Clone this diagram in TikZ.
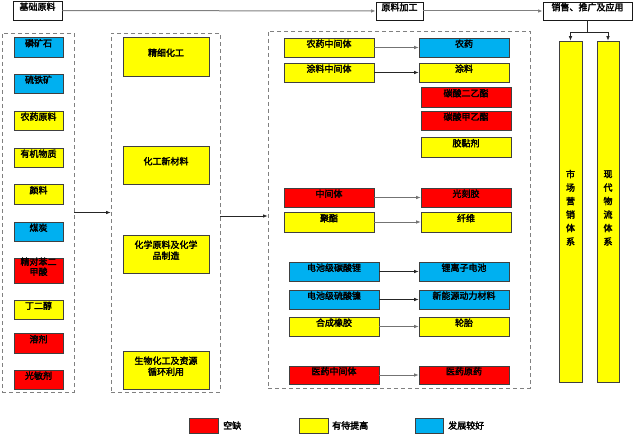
\documentclass[tikz,border=0pt]{standalone}
\usepackage{fontspec}
\setmainfont{Noto Sans CJK SC}[AutoFakeBold=2.5]
\usetikzlibrary{fit,arrows.meta}
\definecolor{cred}{RGB}{255,0,0}
\definecolor{cyel}{RGB}{255,255,0}
\definecolor{cblu}{RGB}{0,176,240}
\tikzset{
  box/.style={draw=black!75, line width=0.7pt, inner sep=0pt, align=center,
    text depth=-1.2pt, font=\fontsize{9}{11}\selectfont\bfseries},
  rbox/.style={box, fill=cred},
  ybox/.style={box, fill=cyel},
  bbox/.style={box, fill=cblu},
  wbox/.style={box, fill=white, draw=black!90},
  grp/.style={draw=black!50, dash pattern=on 4pt off 3pt, line width=0.8pt, inner sep=0pt},
  conn/.style={-{Latex[length=4.5pt,width=3.5pt]}, line width=0.7pt, draw=black!85},
  gconn/.style={conn, draw=black!55},
  tconn/.style={conn, draw=black!50, line width=1pt},
  legtext/.style={anchor=west, inner sep=0pt, font=\fontsize{9}{11}\selectfont\bfseries}
}
\begin{document}
\begin{tikzpicture}[x=1pt,y=-1pt]
\useasboundingbox (0,0) rectangle (635,436);
% top row
\node[wbox, fit={(13,1)(62,20)}] (t1) {基础原料};
\node[wbox, fit={(376,2)(423,20)}] (t2) {原料加工};
\node[wbox, fit={(543,2)(632,20)}] (t3) {销售、推广及应用};
\draw[tconn] (t1) -- (t2);
\draw[tconn] (t2) -- (t3);
% containers
\node[grp, fit={(2,33)(74,392)}] (g1) {};
\node[grp, fit={(111,33)(220,392)}] (g2) {};
\node[grp, fit={(268,31)(530,388)}] (g3) {};
\draw[conn] (g1) -- (g2);
\draw[conn] (g2.east |- 0,216) -- (g3.west |- 0,216);
% left column
\node[bbox, fit={(14,37)(63,57)}] (l1) {磷矿石};
\node[bbox, fit={(14,74)(63,93)}] (l2) {硫铁矿};
\node[ybox, fit={(14,111)(63,130)}] (l3) {农药原料};
\node[ybox, fit={(14,148)(63,167)}] (l4) {有机物质};
\node[ybox, fit={(14,184)(63,204)}] (l5) {颜料};
\node[bbox, fit={(14,222)(63,241)}] (l6) {煤炭};
\node[rbox, fit={(14,258)(63,283)}, font=\fontsize{9}{10}\selectfont\bfseries] (l7) {精对苯二\\甲酸};
\node[ybox, fit={(14,300)(63,319)}] (l8) {丁二醇};
\node[rbox, fit={(14,333)(63,353)}] (l9) {溶剂};
\node[rbox, fit={(14,370)(63,389)}] (l10) {光敏剂};
% middle column
\node[ybox, fit={(123,37)(209,76)}] (m1) {精细化工};
\node[ybox, fit={(123,146)(209,184)}] (m2) {化工新材料};
\node[ybox, fit={(123,235)(209,273)}] (m3) {化学原料及化学\\品制造};
\node[ybox, fit={(123,351)(209,389)}] (m4) {生物化工及资源\\循环利用};
% right area
\node[ybox, fit={(284,38)(374,57)}] (a1) {农药中间体};
\node[bbox, fit={(419,38)(509,57)}] (b1) {农药};
\node[ybox, fit={(284,63)(374,82)}] (a2) {涂料中间体};
\node[ybox, fit={(419,63)(509,82)}] (b2) {涂料};
\node[rbox, fit={(421,87)(511,107)}] (b3) {碳酸二乙酯};
\node[rbox, fit={(421,111)(511,130)}] (b4) {碳酸甲乙酯};
\node[ybox, fit={(421,137)(511,157)}] (b5) {胶黏剂};
\node[rbox, fit={(284,188)(374,207)}] (a6) {中间体};
\node[rbox, fit={(421,188)(511,207)}] (b6) {光刻胶};
\node[ybox, fit={(284,212)(374,232)}] (a7) {聚酯};
\node[ybox, fit={(421,212)(511,232)}] (b7) {纤维};
\node[bbox, fit={(289,262)(379,281)}] (a8) {电池级碳酸锂};
\node[bbox, fit={(419,262)(509,281)}] (b8) {锂离子电池};
\node[bbox, fit={(289,290)(379,309)}] (a9) {电池级硫酸镍};
\node[bbox, fit={(419,290)(509,309)}] (b9) {新能源动力材料};
\node[ybox, fit={(289,317)(379,336)}] (a10) {合成橡胶};
\node[ybox, fit={(419,317)(509,336)}] (b10) {轮胎};
\node[rbox, fit={(289,366)(379,384)}] (a11) {医药中间体};
\node[rbox, fit={(419,366)(509,384)}] (b11) {医药原药};
\draw[gconn] (a1) -- (b1);
\draw[conn] (a2) -- (b2);
\draw[gconn] (a6) -- (b6);
\draw[gconn] (a7) -- (b7);
\draw[conn] (a8) -- (b8);
\draw[conn] (a9) -- (b9);
\draw[gconn] (a10) -- (b10);
\draw[gconn] (a11) -- (b11);
% sales columns
\node[ybox, fit={(559,41)(582,382)}, font=\fontsize{9}{13.5}\selectfont\bfseries] (c1) {市\\场\\营\\销\\体\\系};
\node[ybox, fit={(597,41)(619,382)}, font=\fontsize{9}{13.5}\selectfont\bfseries] (c2) {现\\代\\物\\流\\体\\系};
\coordinate (j) at (587.5,32);
\draw[line width=0.8pt, draw=black!85] (t3.south -| j) -- (j);
\draw[conn] (j) -| (c1);
\draw[conn] (j) -| (c2);
% legend
\node[rbox, fit={(189,418)(218,433)}] (k1) {};
\node[legtext] (k1t) at (223,425.5) {空缺};
\node[ybox, fit={(299,418)(328,433)}] (k2) {};
\node[legtext] (k2t) at (332,425.5) {有待提高};
\node[bbox, fit={(415,418)(443,433)}] (k3) {};
\node[legtext] (k3t) at (448,425.5) {发展较好};
\end{tikzpicture}
\end{document}
